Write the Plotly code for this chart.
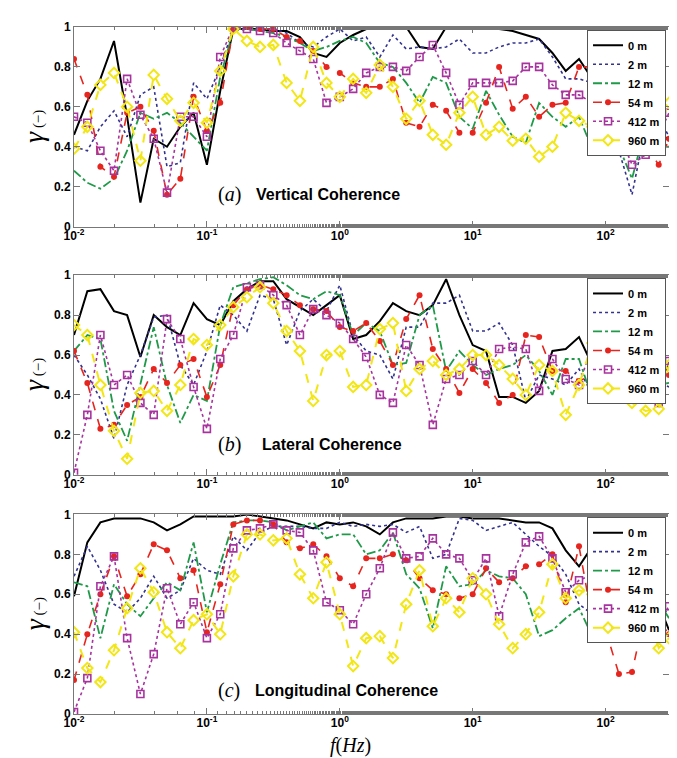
import plotly.graph_objects as go

# frequency grid (Hz), shared by every curve
freq = [0.01, 0.0126, 0.0158, 0.02, 0.0251, 0.0316, 0.0398, 0.0501, 0.0631, 0.0794,
        0.1, 0.126, 0.158, 0.2, 0.251, 0.316, 0.398, 0.501, 0.631, 0.794,
        1, 1.26, 1.58, 2, 2.51, 3.16, 3.98, 5.01, 6.31, 7.94,
        10, 12.6, 15.8, 20, 25.1, 31.6, 39.8, 50.1, 63.1, 79.4,
        100, 126, 158, 200, 251, 300]

names = ["0 m", "2 m", "12 m", "54 m", "412 m", "960 m"]

# (a) vertical coherence
a_0m = [0.46, 0.63, 0.74, 0.93, 0.55, 0.12, 0.44, 0.40, 0.50, 0.57, 0.31, 0.68, 0.99, 0.99, 0.99, 0.98, 0.98, 0.95, 0.87, 0.85, 0.92,
        0.96, 0.99, 1.0, 1.0, 1.0, 0.90, 0.89, 1.0, 1.0, 0.99, 0.99, 0.99, 0.98, 0.96, 0.94, 0.87, 0.78, 0.84, 0.74, 0.66, 0.55, 0.41, 0.50, 0.48, 0.43]
a_2m = [0.40, 0.38, 0.50, 0.58, 0.45, 0.66, 0.70, 0.30, 0.32, 0.72, 0.64, 0.80, 0.99, 0.99, 0.99, 0.99, 0.97, 0.92, 0.90, 0.95, 0.99,
        0.93, 0.95, 0.85, 0.96, 0.89, 0.90, 0.89, 0.90, 0.94, 0.87, 0.87, 0.90, 0.92, 0.92, 0.94, 0.85, 0.74, 0.74, 0.72, 0.62, 0.38, 0.16, 0.50, 0.55, 0.45]
a_12m = [0.28, 0.22, 0.19, 0.24, 0.38, 0.57, 0.54, 0.57, 0.52, 0.45, 0.38, 0.75, 0.98, 0.99, 0.98, 0.97, 0.95, 0.92, 0.88, 0.90, 0.93,
         0.95, 0.92, 0.82, 0.80, 0.72, 0.62, 0.75, 0.72, 0.55, 0.49, 0.68, 0.56, 0.45, 0.42, 0.62, 0.55, 0.50, 0.55, 0.39, 0.60, 0.40, 0.24, 0.50, 0.40, 0.40]
a_54m = [0.84, 0.66, 0.30, 0.25, 0.57, 0.60, 0.48, 0.16, 0.24, 0.65, 0.48, 0.62, 0.99, 1.0, 0.99, 0.99, 0.95, 0.93, 0.88, 0.80, 0.77,
         0.72, 0.70, 0.70, 0.74, 0.52, 0.50, 0.61, 0.58, 0.47, 0.47, 0.62, 0.80, 0.59, 0.65, 0.55, 0.61, 0.62, 0.80, 0.80, 0.70, 0.52, 0.50, 0.40, 0.31, 0.44]
a_412m = [0.55, 0.52, 0.38, 0.28, 0.74, 0.56, 0.44, 0.17, 0.55, 0.55, 0.45, 0.85, 1.0, 0.99, 0.98, 0.97, 0.92, 0.88, 0.84, 0.62, 0.65,
          0.69, 0.77, 0.80, 0.80, 0.78, 0.85, 0.91, 0.77, 0.61, 0.72, 0.72, 0.72, 0.73, 0.80, 0.80, 0.71, 0.66, 0.66, 0.62, 0.60, 0.47, 0.31, 0.36, 0.46, 0.57]
a_960m = [0.39, 0.50, 0.71, 0.77, 0.60, 0.33, 0.76, 0.64, 0.53, 0.62, 0.52, 0.78, 0.99, 0.93, 0.90, 0.91, 0.72, 0.63, 0.90, 0.72, 0.65,
          0.74, 0.67, 0.81, 0.70, 0.54, 0.63, 0.46, 0.41, 0.57, 0.65, 0.46, 0.50, 0.43, 0.44, 0.35, 0.40, 0.57, 0.53, 0.50, 0.55, 0.55, 0.55, 0.52, 0.50, 0.62]

# (b) lateral coherence
b_0m = [0.70, 0.92, 0.93, 0.82, 0.80, 0.59, 0.80, 0.74, 0.70, 0.86, 0.78, 0.75, 0.87, 0.93, 0.97, 0.97, 0.88, 0.84, 0.80, 0.85, 0.90,
        0.68, 0.70, 0.77, 0.86, 0.82, 0.80, 0.85, 0.98, 0.80, 0.65, 0.62, 0.39, 0.39, 0.36, 0.42, 0.62, 0.63, 0.69, 0.55, 0.42, 0.55, 0.54, 0.50, 0.48, 0.55]
b_2m = [0.60, 0.50, 0.38, 0.18, 0.45, 0.60, 0.79, 0.80, 0.55, 0.45, 0.62, 0.85, 0.80, 0.72, 0.90, 0.88, 0.65, 0.82, 0.88, 0.82, 0.95,
        0.70, 0.62, 0.60, 0.48, 0.74, 0.74, 0.86, 0.86, 0.90, 0.72, 0.72, 0.76, 0.65, 0.37, 0.50, 0.48, 0.45, 0.53, 0.40, 0.45, 0.50, 0.55, 0.45, 0.46, 0.44]
b_12m = [0.62, 0.70, 0.68, 0.32, 0.17, 0.45, 0.74, 0.45, 0.26, 0.40, 0.37, 0.75, 0.94, 0.96, 0.98, 0.99, 0.95, 0.90, 0.88, 0.92, 0.90,
         0.70, 0.76, 0.72, 0.55, 0.56, 0.80, 0.85, 0.52, 0.62, 0.55, 0.50, 0.53, 0.55, 0.60, 0.52, 0.40, 0.58, 0.58, 0.38, 0.45, 0.50, 0.48, 0.55, 0.45, 0.46]
b_54m = [0.62, 0.46, 0.23, 0.25, 0.35, 0.39, 0.53, 0.46, 0.55, 0.58, 0.39, 0.55, 0.85, 0.93, 0.95, 0.93, 0.90, 0.85, 0.83, 0.82, 0.74,
         0.72, 0.76, 0.67, 0.55, 0.78, 0.90, 0.63, 0.53, 0.41, 0.53, 0.46, 0.36, 0.40, 0.70, 0.69, 0.52, 0.52, 0.47, 0.50, 0.55, 0.52, 0.55, 0.52, 0.52, 0.50]
b_412m = [0.01, 0.30, 0.70, 0.45, 0.50, 0.36, 0.30, 0.78, 0.68, 0.44, 0.23, 0.58, 0.70, 0.94, 0.95, 0.90, 0.85, 0.70, 0.83, 0.80, 0.76,
          0.68, 0.59, 0.40, 0.36, 0.65, 0.55, 0.25, 0.48, 0.50, 0.57, 0.50, 0.63, 0.64, 0.63, 0.42, 0.58, 0.48, 0.45, 0.65, 0.68, 0.48, 0.44, 0.55, 0.36, 0.57]
b_960m = [0.75, 0.70, 0.45, 0.22, 0.08, 0.41, 0.42, 0.32, 0.45, 0.68, 0.65, 0.75, 0.84, 0.89, 0.94, 0.86, 0.72, 0.62, 0.37, 0.60, 0.62,
          0.44, 0.45, 0.73, 0.76, 0.42, 0.53, 0.57, 0.50, 0.53, 0.60, 0.60, 0.55, 0.48, 0.40, 0.55, 0.52, 0.30, 0.45, 0.66, 0.48, 0.42, 0.36, 0.32, 0.33, 0.55]

# (c) longitudinal coherence
c_0m = [0.59, 0.86, 0.96, 0.98, 0.98, 0.98, 0.96, 0.92, 0.95, 0.99, 0.99, 0.99, 0.99, 1.0, 0.99, 0.98, 0.97, 0.95, 0.93, 0.96, 0.95,
        0.96, 0.94, 0.90, 0.96, 0.98, 0.98, 0.98, 0.99, 0.99, 0.98, 0.98, 0.98, 0.97, 0.96, 0.96, 0.93, 0.82, 0.74, 0.84, 0.80, 0.70, 0.62, 0.58, 0.55, 0.42]
c_2m = [0.69, 0.84, 0.72, 0.55, 0.51, 0.58, 0.69, 0.58, 0.62, 0.78, 0.72, 0.70, 0.89, 0.82, 0.91, 0.94, 0.94, 0.94, 0.93, 0.93, 0.96,
        0.94, 0.95, 0.94, 0.95, 0.91, 0.94, 0.78, 0.80, 0.98, 0.97, 0.92, 0.94, 0.96, 0.90, 0.84, 0.79, 0.70, 0.55, 0.50, 0.55, 0.52, 0.43, 0.54, 0.50, 0.52]
c_12m = [0.66, 0.64, 0.38, 0.65, 0.55, 0.49, 0.58, 0.66, 0.62, 0.86, 0.51, 0.75, 0.96, 0.97, 0.97, 0.96, 0.92, 0.94, 0.96, 0.88, 0.90,
         0.90, 0.80, 0.82, 0.91, 0.70, 0.63, 0.43, 0.74, 0.64, 0.65, 0.72, 0.69, 0.68, 0.60, 0.39, 0.42, 0.48, 0.53, 0.39, 0.45, 0.50, 0.55, 0.55, 0.56, 0.48]
c_54m = [0.17, 0.40, 0.60, 0.79, 0.59, 0.70, 0.85, 0.82, 0.68, 0.72, 0.41, 0.65, 0.95, 0.97, 0.97, 0.95, 0.86, 0.83, 0.85, 0.79, 0.68,
         0.64, 0.78, 0.78, 0.80, 0.77, 0.68, 0.62, 0.60, 0.58, 0.60, 0.73, 0.66, 0.68, 0.74, 0.75, 0.80, 0.56, 0.84, 0.47, 0.42, 0.20, 0.21, 0.52, 0.47, 0.40]
c_412m = [0.01, 0.18, 0.64, 0.79, 0.38, 0.10, 0.30, 0.63, 0.45, 0.56, 0.38, 0.50, 0.83, 0.92, 0.93, 0.95, 0.92, 0.91, 0.82, 0.56, 0.52,
          0.45, 0.60, 0.73, 0.91, 0.78, 0.79, 0.88, 0.80, 0.78, 0.67, 0.78, 0.49, 0.70, 0.86, 0.89, 0.78, 0.61, 0.67, 0.70, 0.68, 0.55, 0.52, 0.46, 0.46, 0.54]
c_960m = [0.41, 0.23, 0.16, 0.32, 0.53, 0.73, 0.61, 0.41, 0.33, 0.47, 0.50, 0.40, 0.69, 0.90, 0.90, 0.87, 0.88, 0.70, 0.58, 0.76, 0.50,
          0.24, 0.38, 0.39, 0.28, 0.55, 0.72, 0.44, 0.58, 0.51, 0.68, 0.60, 0.45, 0.33, 0.40, 0.51, 0.75, 0.58, 0.62, 0.60, 0.43, 0.52, 0.55, 0.55, 0.33, 0.38]

panels = [
    ("a", "Vertical Coherence", [a_0m, a_2m, a_12m, a_54m, a_412m, a_960m]),
    ("b", "Lateral Coherence", [b_0m, b_2m, b_12m, b_54m, b_412m, b_960m]),
    ("c", "Longitudinal Coherence", [c_0m, c_2m, c_12m, c_54m, c_412m, c_960m]),
]

styles = [
    dict(mode="lines", line=dict(color="black", width=2, dash="solid")),
    dict(mode="lines", line=dict(color="#33338f", width=1.6, dash="dot")),
    dict(mode="lines", line=dict(color="#1f9a48", width=1.8, dash="dashdot")),
    dict(mode="lines+markers", line=dict(color="#e6251e", width=1.6, dash="dash"),
         marker=dict(symbol="circle", size=6, color="#e6251e")),
    dict(mode="lines+markers", line=dict(color="#a6339e", width=1.6, dash="dot"),
         marker=dict(symbol="square-open", size=7, color="#a6339e", line=dict(width=1.6))),
    dict(mode="lines+markers", line=dict(color="#f2e614", width=2, dash="dash"),
         marker=dict(symbol="diamond-open", size=8, color="#f2e614", line=dict(width=2))),
]

domains = [[0.7095, 1.0], [0.3483, 0.6387], [0.0, 0.2905]]
label_y = [0.16, 0.15, 0.12]
label_x = [246, 252, 245]

fig = go.Figure()

for i, (tag, title, series) in enumerate(panels):
    k = "" if i == 0 else str(i + 1)
    leg = "legend" + k
    for name, vals, st in zip(names, series, styles):
        fig.add_trace(go.Scatter(x=freq, y=vals, name=name, xaxis="x" + k, yaxis="y" + k,
                                 legend=leg, **st))

    fig.update_layout({
        "xaxis" + k: dict(
            type="log", range=[-2, 2.477], domain=[0, 1], anchor="y" + k,
            showline=True, linecolor="#777", linewidth=1, mirror="ticks",
            ticks="inside", ticklen=6, tickcolor="#777", showgrid=False,
            tickvals=[0.01, 0.1, 1, 10, 100],
            ticktext=["10<sup>-2</sup>", "10<sup>-1</sup>", "10<sup>0</sup>",
                      "10<sup>1</sup>", "10<sup>2</sup>"],
            tickfont=dict(size=12, weight="bold", color="black"),
            ticklabelstandoff=-2,
            minor=dict(ticks="inside", ticklen=3, tickcolor="#777", showgrid=False),
        ),
        "yaxis" + k: dict(
            range=[0, 1], domain=domains[i], anchor="x" + k,
            showline=True, linecolor="#777", linewidth=1, mirror="ticks",
            ticks="inside", ticklen=6, tickcolor="#777", showgrid=False, zeroline=False,
            tickvals=[0, 0.2, 0.4, 0.6, 0.8, 1],
            ticktext=["0", "0.2", "0.4", "0.6", "0.8", "1"],
            tickfont=dict(size=12, weight="bold", color="black"),
        ),
        leg: dict(
            x=0.995, xanchor="right", y=domains[i][1] - 0.004, yanchor="top",
            bgcolor="white", bordercolor="#555", borderwidth=1,
            font=dict(size=11, weight="bold", color="black"),
            tracegroupgap=0, itemwidth=30,
        ),
    })

    fig.add_annotation(
        x=(221 - 66) / 595, y=label_y[i], xref="x" + k + " domain", yref="y" + k + " domain",
        text="(<i>" + tag + "</i>)", showarrow=False, xanchor="center", yanchor="middle",
        font=dict(family="Liberation Serif", size=20, color="black"))
    fig.add_annotation(
        x=(label_x[i] - 66) / 595, y=label_y[i], xref="x" + k + " domain", yref="y" + k + " domain",
        text="<b>" + title + "</b>", showarrow=False, xanchor="left", yanchor="middle",
        font=dict(family="Liberation Sans", size=16, color="black"))
    fig.add_annotation(
        x=-0.067, y=0.5, xref="x" + k + " domain", yref="y" + k + " domain",
        text="<i>γ</i><span style='font-size:15px'> (−)</span>", showarrow=False,
        xanchor="center", yanchor="middle",
        textangle=-90, font=dict(family="Liberation Serif", size=28, color="black"))

fig.add_annotation(
    x=(342 - 66) / 595, y=-0.046, xref="paper", yref="paper", yanchor="middle", xanchor="center",
    text="<i>f</i>(<i>Hz</i>)", showarrow=False,
    font=dict(family="Liberation Serif", size=20, color="black"))

fig.update_layout(
    width=677, height=758,
    margin=dict(l=66, r=16, t=14, b=52),
    plot_bgcolor="white", paper_bgcolor="white",
    font=dict(family="Liberation Sans, Arial", color="black"),
    showlegend=True,
)

fig.write_html("out.html")
